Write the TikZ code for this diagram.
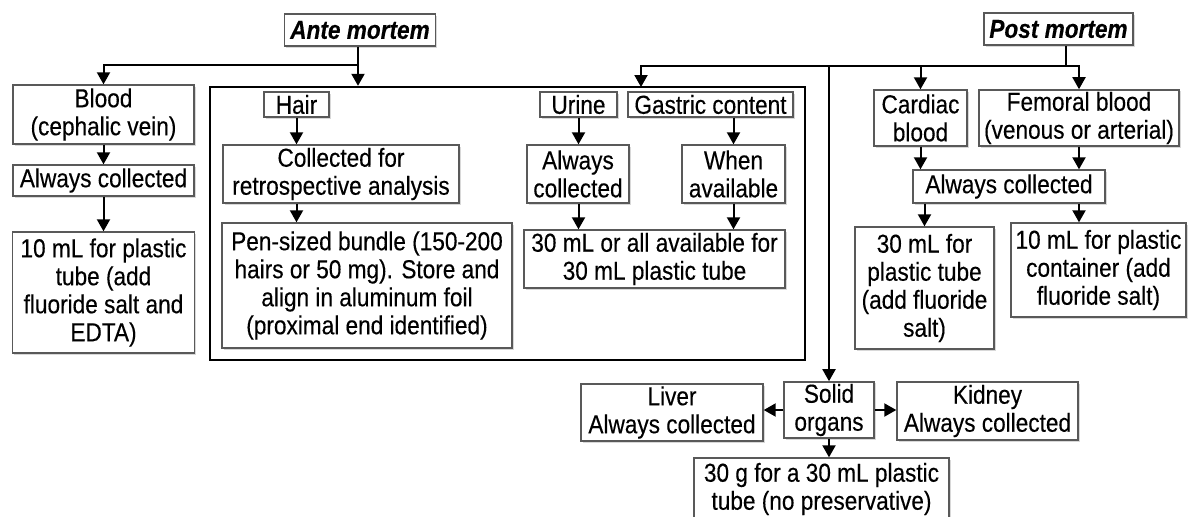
\documentclass[tikz,border=0pt]{standalone}
\usepackage{fontspec}
\setmainfont[FakeStretch=0.87,FakeBold=0.3]{Liberation Sans}
\usetikzlibrary{arrows.meta,shadows}

\newcommand{\boxfont}{\fontsize{13pt}{14pt}\selectfont}

\tikzset{
  box/.style={draw=gray!70!black, line width=0.7pt, fill=white, align=center,
    inner sep=1pt, font=\boxfont,
    drop shadow={shadow xshift=0.8pt, shadow yshift=-0.8pt, fill=gray!60, opacity=0.5}},
  conn/.style={line width=1pt},
  arr/.style={line width=1pt, -{Triangle[length=6pt,width=6.5pt]}},
}

\begin{document}
\begin{tikzpicture}[x=0.5pt,y=-0.5pt]
  \useasboundingbox (0,0) rectangle (1188,516);

  % frame round the ante mortem samples
  \node[draw=black, line width=1.2pt, minimum width=297.5pt, minimum height=136.5pt, inner sep=0pt] (grp) at (507.5,223.5) {};

  % heads
  \node[box, minimum width=75.5pt, minimum height=16pt] (ante) at (360,30) {\bfseries\itshape Ante mortem};
  \node[box, minimum width=74.5pt, minimum height=16pt] (post) at (1058.5,29) {\bfseries\itshape Post mortem};

  % ante mortem, blood
  \node[box, minimum width=90.5pt, minimum height=29.5pt] (blood) at (103.5,114.5) {Blood\\(cephalic vein)};
  \node[box, minimum width=90.5pt, minimum height=15.5pt] (bac) at (103.5,180.5) {Always collected};
  \node[box, minimum width=91pt, minimum height=60.5pt] (bml) at (103.5,292.5) {10 mL for plastic\\tube (add\\fluoride salt and\\EDTA)};

  % ante mortem, hair, urine, gastric content
  \node[box, minimum width=32.5pt, minimum height=12.5pt] (hair) at (296.5,104.5) {Hair};
  \node[box, minimum width=118pt, minimum height=29pt] (hcol) at (341,174) {Collected for\\retrospective analysis};
  \node[box, minimum width=145pt, minimum height=62.5pt] (hpen) at (367,285.5) {Pen-sized bundle (150-200\\hairs or 50 mg). Store and\\align in aluminum foil\\(proximal end identified)};
  \node[box, minimum width=38.5pt, minimum height=12.5pt] (urine) at (578.5,104.5) {Urine};
  \node[box, minimum width=51pt, minimum height=29pt] (ucol) at (578,174) {Always\\collected};
  \node[box, minimum width=130.5pt, minimum height=29pt] (u30) at (654.5,259) {30 mL or all available for\\30 mL plastic tube};
  \node[box, minimum width=82.5pt, minimum height=12.5pt] (gastric) at (710.5,104.5) {Gastric content};
  \node[box, minimum width=51.5pt, minimum height=29pt] (gavail) at (733.5,174) {When\\available};

  % post mortem, blood
  \node[box, minimum width=46.5pt, minimum height=28pt] (cardiac) at (920.5,118) {Cardiac\\blood};
  \node[box, minimum width=100pt, minimum height=28pt] (femoral) at (1079,118) {Femoral blood\\(venous or arterial)};
  \node[box, minimum width=96pt, minimum height=16.5pt] (pac) at (1009,186.5) {Always collected};
  \node[box, minimum width=69.5pt, minimum height=61pt] (p30) at (924.5,288) {30 mL for\\plastic tube\\(add fluoride\\salt)};
  \node[box, minimum width=87.5pt, minimum height=47pt] (p10) at (1098.5,270) {10 mL for plastic\\container (add\\fluoride salt)};

  % post mortem, solid organs
  \node[box, minimum width=45pt, minimum height=28pt] (solid) at (829,410) {Solid\\organs};
  \node[box, minimum width=91pt, minimum height=28.5pt] (liver) at (672,412.5) {Liver\\Always collected};
  \node[box, minimum width=90.5pt, minimum height=29pt] (kidney) at (987.5,411) {Kidney\\Always collected};
  \node[box, minimum width=127.5pt, minimum height=31pt] (s30) at (821.5,489) {30 g for a 30 mL plastic\\tube (no preservative)};

  % connectors from the heads
  \coordinate (aj) at (358,65);
  \coordinate (pj) at (1066,66);
  \coordinate (gin) at (641,87);
  \draw[conn] (ante.south -| aj) -- (aj);
  \draw[arr] (aj) -| (blood);
  \draw[arr] (aj) -- (aj |- grp.north);
  \draw[conn] (post.south -| pj) -- (pj);
  \draw[arr] (pj) -| (gin);
  \draw[arr] (pj) -| (cardiac);
  \draw[arr] (pj) -| (femoral);
  \draw[arr] (solid |- pj) -- (solid);

  % inside the columns
  \draw[arr] (blood) -- (bac);
  \draw[arr] (bac) -- (bml);
  \draw[arr] (hair) -- (hair |- hcol.north);
  \draw[arr] (hcol.south -| hair) -- (hair |- hpen.north);
  \draw[arr] (urine) -- (urine |- ucol.north);
  \draw[arr] (ucol.south -| urine) -- (urine |- u30.north);
  \draw[arr] (gastric.south -| gavail) -- (gavail);
  \draw[arr] (gavail) -- (gavail |- u30.north);
  \draw[arr] (cardiac) -- (cardiac |- pac.north);
  \draw[arr] (femoral) -- (femoral |- pac.north);
  \draw[arr] (pac.south -| p30) -- (p30);
  \draw[arr] (pac.south -| femoral) -- (femoral |- p10.north);
  \draw[arr] (solid.west) -- (solid.west -| liver.east);
  \draw[arr] (solid.east) -- (solid.east -| kidney.west);
  \draw[arr] (solid) -- (solid |- s30.north);
\end{tikzpicture}
\end{document}
